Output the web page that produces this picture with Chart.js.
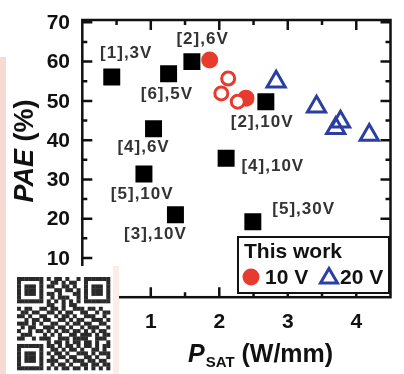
<!DOCTYPE html>
<html>
<head>
<meta charset="utf-8">
<script src="https://cdn.jsdelivr.net/npm/chart.js@4.4.0/dist/chart.umd.min.js"></script>
<style>
  html, body { margin: 0; padding: 0; background: #ffffff; }
  #jsChart { display: block; }
</style>
</head>
<body>
<canvas id="jsChart" width="404" height="374"></canvas>
<script>
// reference works (black squares)
const refLabels = ['[1],3V', '[6],5V', '[2],6V', '[4],6V', '[5],10V', '[3],10V', '[4],10V', '[2],10V', '[5],30V']
const refPsat = [0.43, 1.26, 1.60, 1.04, 0.90, 1.36, 2.10, 2.68, 2.49]
const refPae = [56.1, 56.9, 60.0, 42.9, 31.4, 21.0, 35.4, 49.8, 19.2]

// this work, 10 V (filled / open circles)
const filled10Psat = [1.86, 2.39]
const filled10Pae = [60.4, 50.7]
const open10Psat = [2.13, 2.03, 2.27]
const open10Pae = [55.7, 51.9, 49.8]

// this work, 20 V (open triangles)
const tri20Psat = [2.83, 3.42, 3.77, 3.70, 4.19]
const tri20Pae = [54.9, 48.5, 44.7, 43.0, 41.3]

// axes
const xTicks = [1, 2, 3, 4]
const yTicks = [10, 20, 30, 40, 50, 60, 70]

// label offsets from their square, in pixels (layout only)
const labelOffsets = [[14.5, -24], [-1.7, 20.7], [10.7, -22], [-10, 19], [-1.7, 20], [-20, 19.5], [46.7, 8.4], [-3.7, 21], [50.8, -12.3]]

const RED = '#e63b2e'
const BLUE = '#2b3fa3'
const FONT = "'Liberation Sans', Arial, sans-serif"

// decorative QR block
const qrRows = [
    '1111111' + '0' + '101101001' + '0' + '1111111',
    '1000001' + '0' + '011010110' + '0' + '1000001',
    '1011101' + '0' + '110011010' + '0' + '1011101',
    '1011101' + '0' + '001101101' + '0' + '1011101',
    '1011101' + '0' + '110100011' + '0' + '1011101',
    '1000001' + '0' + '010111001' + '0' + '1000001',
    '1111111' + '0' + '101010101' + '0' + '1111111',
    '00000000' + '110010110' + '00000000',
    '1011001' + '1' + '011010011' + '1' + '0110100',
    '0110110' + '0' + '110101100' + '1' + '1001011',
    '1101001' + '1' + '001011010' + '0' + '1110010',
    '0010110' + '1' + '100110101' + '1' + '0011101',
    '1110101' + '0' + '011001011' + '0' + '1100110',
    '0101100' + '1' + '110110100' + '1' + '0111001',
    '1001011' + '0' + '101011011' + '0' + '1010110',
    '0111000' + '1' + '010100110' + '1' + '1101011',
    '1100101' + '1' + '100111011' + '1' + '1001110',
    '00000000' + '101101011' + '01101001',
    '1111111' + '0' + '11010110101101011',
    '1000001' + '0' + '01101011010011010',
    '1011101' + '0' + '10110100111010111',
    '1011101' + '0' + '01011011001101001',
    '1011101' + '0' + '11100101110110110',
    '1000001' + '0' + '01011010011011011',
    '1111111' + '0' + '10101101101010101'
]

function toPoints(xs, ys) {
    return xs.map((x, i) => ({ x: x, y: ys[i] }))
}

/**
 * @function drawFrame
 * @description box, inward ticks, tick labels, axis titles
 */
function drawFrame(chart) {
    let ctx = chart.ctx
    let xs = chart.scales.x
    let ys = chart.scales.y
    let a = chart.chartArea

    ctx.save()
    ctx.strokeStyle = '#111'
    ctx.lineWidth = 2.5
    ctx.strokeRect(a.left, a.top, a.right - a.left, a.bottom - a.top)

    ctx.beginPath()
    for (let v = 0.5; v < 4.5; v += 0.5) {
        let px = xs.getPixelForValue(v)
        let len = Number.isInteger(v) ? 10 : 5
        ctx.moveTo(px, a.bottom); ctx.lineTo(px, a.bottom - len)
        ctx.moveTo(px, a.top); ctx.lineTo(px, a.top + len)
    }
    for (let v = 5; v <= 70; v += 5) {
        let py = ys.getPixelForValue(v)
        let len = v % 10 === 0 ? 10 : 5
        ctx.moveTo(a.left, py); ctx.lineTo(a.left + len, py)
        ctx.moveTo(a.right, py); ctx.lineTo(a.right - len, py)
    }
    ctx.stroke()

    ctx.fillStyle = '#111'
    ctx.font = 'bold 21px ' + FONT
    ctx.textBaseline = 'middle'
    ctx.textAlign = 'right'
    yTicks.forEach(v => ctx.fillText(String(v), 70, ys.getPixelForValue(v) + 1))
    ctx.textAlign = 'center'
    xTicks.forEach(v => ctx.fillText(String(v), xs.getPixelForValue(v), 322))

    // y title
    ctx.save()
    ctx.translate(26, 151)
    ctx.rotate(-Math.PI / 2)
    ctx.textAlign = 'left'
    ctx.font = 'italic bold 27px ' + FONT
    let w1 = ctx.measureText('PAE').width
    ctx.font = 'bold 27px ' + FONT
    let w2 = ctx.measureText(' (%)').width
    let sx = -(w1 + w2) / 2
    ctx.font = 'italic bold 27px ' + FONT
    ctx.fillText('PAE', sx, 0)
    ctx.font = 'bold 27px ' + FONT
    ctx.fillText(' (%)', sx + w1, 0)
    ctx.restore()

    // x title
    ctx.textAlign = 'left'
    ctx.textBaseline = 'alphabetic'
    let x0 = 188
    ctx.font = 'italic bold 25px ' + FONT
    ctx.fillText('P', x0, 362)
    x0 += ctx.measureText('P').width
    ctx.font = 'bold 15px ' + FONT
    ctx.fillText('SAT', x0 + 1, 367)
    x0 += ctx.measureText('SAT').width + 1
    ctx.font = 'bold 25px ' + FONT
    ctx.fillText(' (W/mm)', x0, 362)
    ctx.restore()
}

/**
 * @function drawNotes
 * @description reference labels, legend box, side panel
 */
function drawNotes(chart) {
    let ctx = chart.ctx
    let xs = chart.scales.x
    let ys = chart.scales.y

    ctx.save()
    ctx.fillStyle = '#333'
    ctx.font = 'bold 17px ' + FONT
    ctx.letterSpacing = '1px'
    ctx.textAlign = 'center'
    ctx.textBaseline = 'middle'
    refLabels.forEach((t, i) => {
        let px = xs.getPixelForValue(refPsat[i]) + labelOffsets[i][0]
        let py = ys.getPixelForValue(refPae[i]) + labelOffsets[i][1]
        ctx.fillText(t, px, py)
    })
    ctx.letterSpacing = '0px'

    // legend
    ctx.fillStyle = '#fff'
    ctx.fillRect(238, 237, 151, 56)
    ctx.strokeStyle = '#111'
    ctx.lineWidth = 2
    ctx.strokeRect(238, 237, 151, 56)
    ctx.fillStyle = '#111'
    ctx.font = 'bold 21px ' + FONT
    ctx.textAlign = 'left'
    ctx.textBaseline = 'alphabetic'
    ctx.fillText('This work', 244, 258)
    ctx.fillText('10 V', 265, 284)
    ctx.fillText('20 V', 340, 284)
    ctx.fillStyle = RED
    ctx.beginPath()
    ctx.arc(251, 277, 8.5, 0, Math.PI * 2)
    ctx.fill()
    ctx.strokeStyle = BLUE
    ctx.lineWidth = 3
    ctx.lineJoin = 'miter'
    ctx.beginPath()
    ctx.moveTo(329, 268.5); ctx.lineTo(337.5, 283); ctx.lineTo(320.5, 283); ctx.closePath()
    ctx.stroke()

    // side panel with QR block
    ctx.fillStyle = '#f7dbd3'
    ctx.fillRect(0, 57, 6, 317)
    ctx.fillStyle = '#fbece8'
    ctx.fillRect(113, 266, 6, 108)
    ctx.fillStyle = '#fff'
    ctx.fillRect(6, 266, 107, 108)
    ctx.fillStyle = '#2a2a2a'
    let m = 93 / 25
    qrRows.forEach((row, r) => {
        for (let c = 0; c < 25; c++) {
            if (row[c] === '1') ctx.fillRect(17 + c * m, 277 + r * m, m + 0.3, m + 0.3)
        }
    })
    ctx.restore()
}

function initChart() {
    let element = document.getElementById('jsChart')

    new Chart(element, {
        type: 'scatter',
        data: {
            datasets: [{
                data: toPoints(refPsat, refPae),
                pointStyle: 'rect',
                pointRadius: 12,
                backgroundColor: '#000',
                borderWidth: 0
            }, {
                data: toPoints(open10Psat, open10Pae),
                pointStyle: 'circle',
                pointRadius: 6.5,
                backgroundColor: '#fff',
                borderColor: RED,
                borderWidth: 3
            }, {
                data: toPoints(filled10Psat, filled10Pae),
                pointStyle: 'circle',
                pointRadius: 8.5,
                backgroundColor: RED,
                borderWidth: 0
            }, {
                data: toPoints(tri20Psat, tri20Pae),
                pointStyle: 'triangle',
                pointRadius: 10.5,
                backgroundColor: 'rgba(0,0,0,0)',
                borderColor: BLUE,
                borderWidth: 3
            }]
        },
        options: {
            responsive: false,
            animation: false,
            events: [],
            layout: { padding: { left: 82.3, right: 9, top: 20, bottom: 76.8 } },
            plugins: {
                legend: { display: false },
                tooltip: { enabled: false }
            },
            scales: {
                x: { type: 'linear', min: 0, max: 4.5, display: false },
                y: { type: 'linear', min: 0, max: 70.6, display: false }
            }
        },
        plugins: [{
            id: 'frame',
            beforeDatasetsDraw: drawFrame,
            afterDatasetsDraw: drawNotes
        }]
    })
}

initChart()
</script>
</body>
</html>
